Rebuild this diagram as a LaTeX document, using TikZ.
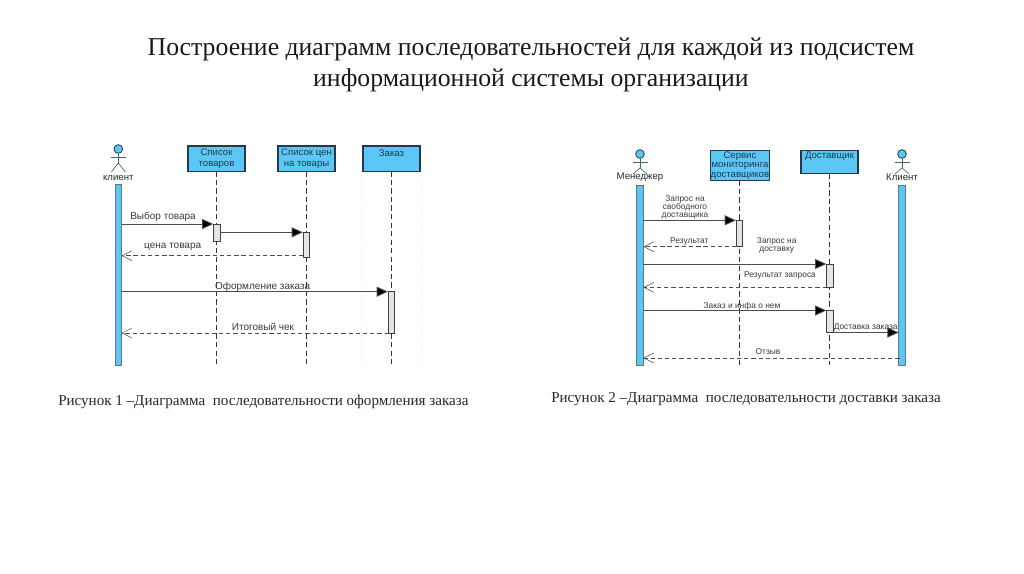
\documentclass[tikz,border=0pt]{standalone}
\usepackage{fontspec}
\setmainfont{Liberation Serif}
\setsansfont{Liberation Sans}
\usetikzlibrary{arrows.meta}
\definecolor{seqblue}{HTML}{5CC6F4}
\definecolor{seqedge}{HTML}{1F3B4D}
\definecolor{seqgray}{HTML}{E4E4E4}
\definecolor{seqtext}{HTML}{3A3A3A}
\tikzset{
    headtext/.style={inner sep=0pt, align=center, font=\fontsize{19.3}{23.25}\selectfont, text=black!90},
    captext/.style={inner sep=0pt, anchor=west, font=\fontsize{11.3}{13}\selectfont, text=black!85},
    objbox/.style={draw=seqedge, line width=0.8pt, fill=seqblue, minimum width=42.75pt, inner sep=0pt, outer sep=0pt, anchor=north west, align=center, font=\sffamily\fontsize{7.2}{7.8}\selectfont, text=seqedge},
    lifebar/.style={draw=seqedge!70, line width=0.5pt, fill=seqblue, minimum width=4.8pt, inner sep=0pt, outer sep=0pt, anchor=north},
    actbox/.style={draw=black!75, line width=0.6pt, fill=seqgray, minimum width=5pt, inner sep=0pt, outer sep=0pt, anchor=north},
    lifeline/.style={draw=black!80, line width=0.7pt, dash pattern=on 4pt off 2.4pt},
    ghostline/.style={draw=black!8, line width=0.5pt, dotted},
    msg/.style={draw=black!70, line width=0.7pt, -{Triangle[length=8.5pt, width=7.5pt, fill=black]}},
    ret/.style={draw=black!70, line width=0.7pt, dash pattern=on 3.2pt off 2.2pt, -{Straight Barb[length=7.5pt, width=7.5pt, line width=0.4pt]}},
    lbl/.style={inner sep=0pt, font=\sffamily\fontsize{7.5}{8.6}\selectfont, text=seqtext},
    lblsm/.style={inner sep=0pt, align=center, font=\sffamily\fontsize{6.3}{6}\selectfont, text=seqtext},
    actorname/.style={inner sep=0pt, font=\sffamily\fontsize{7.2}{8}\selectfont, text=black!85},
    actorhead/.style={circle, draw=seqedge, line width=0.6pt, fill=seqblue, minimum size=6.5pt, inner sep=0pt, outer sep=0pt},
}
\begin{document}
\begin{tikzpicture}[x=0.75pt, y=-0.75pt]
    \useasboundingbox (0,0) rectangle (1024,574);

    % === заголовок и подписи ===
    \node[headtext] (title) at (531,65) {Построение диаграмм последовательностей для каждой из подсистем\\информационной системы организации};
    \node[captext] (capA) at (58,401.5) {Рисунок 1 –Диаграмма\ \ последовательности оформления заказа};
    \node[captext] (capB) at (551,399.5) {Рисунок 2 –Диаграмма\ \ последовательности доставки заказа};

    % === актёры ===
    \foreach \x/\y/\nm/\txt in {118.3/149/klient/клиент, 640/154/manager/Менеджер, 902/154/buyer/Клиент} {
        \node[actorhead] (\nm head) at (\x,\y) {};
        \coordinate (\nm neck) at (\x,\y+14);
        \draw[seqedge!80, line width=0.5pt] (\nm head.south) -- (\nm neck);
        \draw[seqedge!80, line width=0.5pt] (\x-7.5,\y+8.5) -- (\x+7.5,\y+8.5);
        \draw[seqedge!80, line width=0.5pt] (\x-7,{max(\y+20,172)}) -- (\nm neck) -- (\x+7,{max(\y+20,172)});
        \node[actorname] (\nm name) at (\x,177.5) {\txt};
    }
    \node[lifebar, minimum height=135.75pt] (barK) at (118.3,184) {};
    \node[lifebar, minimum height=135pt] (barM) at (640,185) {};
    \node[lifebar, minimum height=135pt] (barB) at (902,185) {};

    % === рисунок 1 ===
    \node[objbox, minimum height=19pt] (spisok) at (188,146) {Список\\товаров};
    \node[objbox, minimum height=19pt] (ceny) at (278,146) {Список цен\\на товары};
    \node[objbox, minimum height=19pt] (zakaz) at (363,146) {Заказ\\~};

    \foreach \nm in {spisok, ceny, zakaz} {
        \coordinate (\nm end) at (\nm.south |- barK.south);
        \draw[lifeline] (\nm.south) -- (\nm end);
    }
    \coordinate (ghostA) at (361,365);
    \coordinate (ghostB) at (421,365);
    \draw[ghostline] (zakaz.south west -| ghostA) -- (ghostA);
    \draw[ghostline] (zakaz.south east -| ghostB) -- (ghostB);

    \node[actbox, minimum height=12.75pt] (actA) at (216.7,224) {};
    \node[actbox, minimum height=19pt] (actB) at (306.3,232.3) {};
    \node[actbox, minimum height=31.25pt] (actC) at (391.3,291.7) {};

    \coordinate (retA) at (303.3,255.7);
    \coordinate (retB) at (388.8,333);

    \draw[msg] (barK.east |- actA.north) -- (actA.north west);
    \draw[msg] (actA.east |- actB.north) -- (actB.north west);
    \draw[ret] (retA) -- (barK.east |- retA);
    \draw[msg] (barK.east |- actC.north) -- (actC.north west);
    \draw[ret] (retB) -- (barK.east |- retB);

    \node[lbl] (vybor) at (163,217) {Выбор товара};
    \node[lbl] (cena) at (172.7,247) {цена товара};
    \node[lbl] (oform) at (262.7,286.5) {Оформление заказа};
    \node[lbl] (itog) at (263,327) {Итоговый чек};

    % === рисунок 2 ===
    \node[objbox, minimum height=22.5pt, font=\sffamily\fontsize{7.2}{7.2}\selectfont] (servis) at (710.7,150.3) {Сервис\\мониторинга\\доставщиков};
    \node[objbox, minimum height=17.25pt] (dostav) at (801,150.3) {\raisebox{9.5pt}{Доставщик}};

    \foreach \nm in {servis, dostav} {
        \coordinate (\nm end) at (\nm.south |- barM.south);
        \draw[lifeline] (\nm.south) -- (\nm end);
    }

    \node[actbox, minimum height=19.75pt] (actD) at (739.3,220.3) {};
    \node[actbox, minimum height=17.75pt] (actE) at (829.7,264) {};
    \node[actbox, minimum height=16.5pt] (actF) at (829.7,310.5) {};

    \coordinate (retD) at (736.5,246.7);
    \coordinate (retE) at (826.8,287.3);
    \coordinate (retF) at (899.6,358);

    \draw[msg] (barM.east |- actD.north) -- (actD.north west);
    \draw[ret] (retD) -- (barM.east |- retD);
    \draw[msg] (barM.east |- actE.north) -- (actE.north west);
    \draw[ret] (retE) -- (barM.east |- retE);
    \draw[msg] (barM.east |- actF.north) -- (actF.north west);
    \draw[msg] (actF.south east) -- (barB.west |- actF.south);
    \draw[ret] (retF) -- (barM.east |- retF);

    \node[lblsm] (zapros) at (685,207) {Запрос на\\свободного\\доставщика};
    \node[lblsm] (rez) at (689.3,241.7) {Результат};
    \node[lblsm] (zapdost) at (776.7,245.8) {Запрос на\\доставку};
    \node[lblsm] (rezzap) at (780,275) {Результат запроса};
    \node[lblsm] (inf) at (742,306) {Заказ и инфа о нем};
    \node[lblsm] (dostz) at (865.7,327.7) {Доставка заказа};
    \node[lblsm] (otz) at (768,351.7) {Отзыв};
\end{tikzpicture}
\end{document}
